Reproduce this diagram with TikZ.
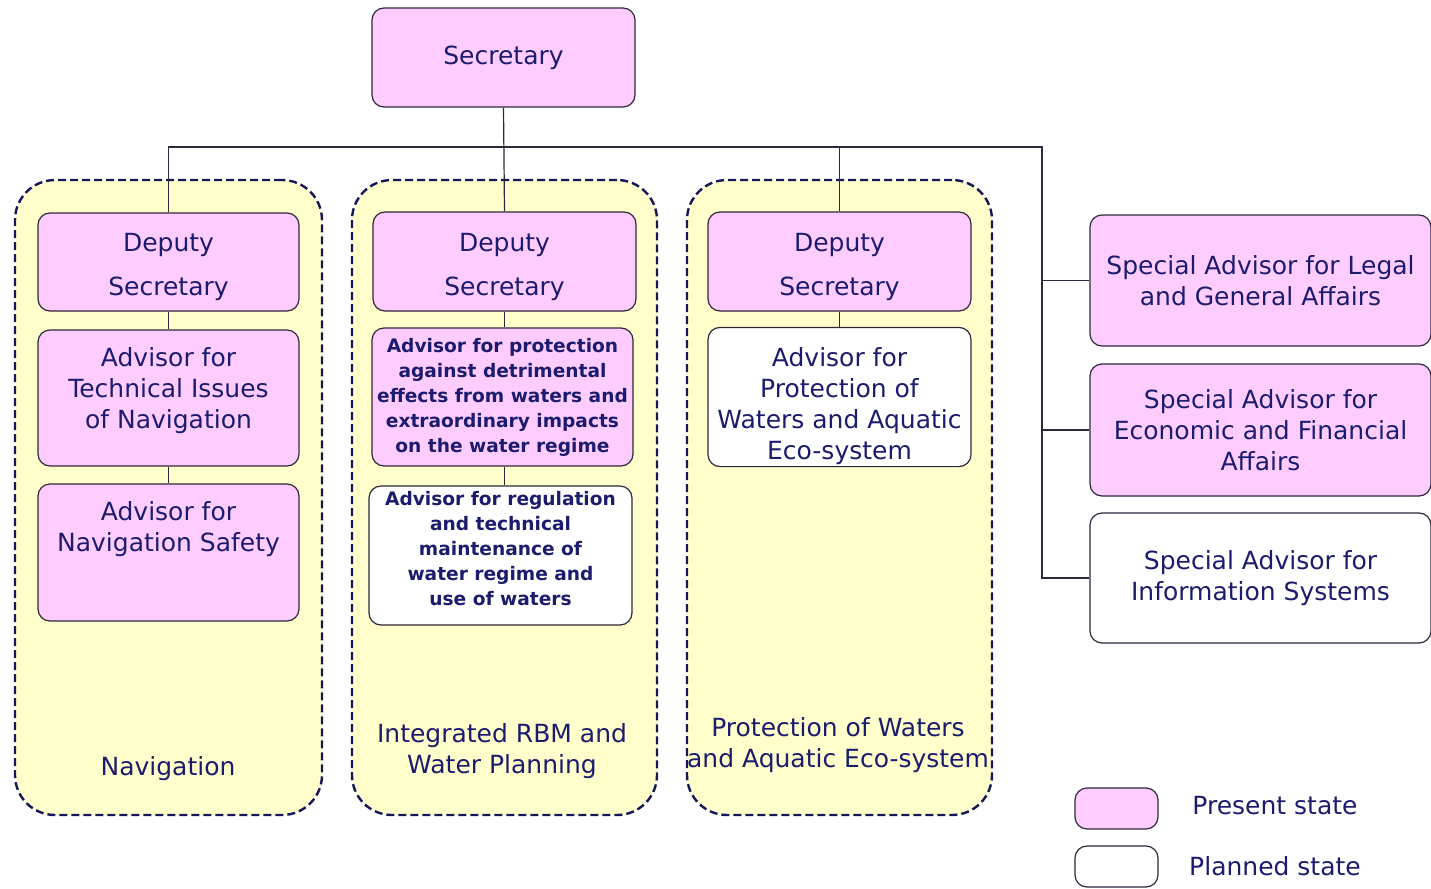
\documentclass[tikz,border=0pt]{standalone}
\usepackage{fontspec}
\setmainfont{DejaVu Sans}
\usetikzlibrary{positioning}
\definecolor{pinkfill}{RGB}{255,204,255}
\definecolor{yellowfill}{RGB}{255,255,204}
\definecolor{navytext}{RGB}{28,28,110}
\definecolor{edgegray}{RGB}{45,40,60}
% invisible struts to nudge text inside a box
\newcommand{\upstrut}[1]{\rule{0pt}{#1}}
\newcommand{\downstrut}[1]{\rule[-#1]{0pt}{1pt}}

\begin{document}
\begin{tikzpicture}[x=0.5pt, y=-0.5pt,
  present/.style={rectangle, rounded corners=6pt,
    draw=edgegray, line width=0.6pt, fill=pinkfill,
    text=navytext, font=\fontsize{12.5}{15.5}\selectfont,
    align=center, inner sep=1pt},
  planned/.style={present, fill=white},
  smalltext/.style={font=\fontsize{9.3}{12.5}\selectfont\bfseries},
  dashbox/.style={rectangle, rounded corners=20pt,
    draw=navytext!80!black, dash pattern=on 4pt off 2pt, line width=1.2pt,
    fill=yellowfill},
  grouplabel/.style={text=navytext, font=\fontsize{12.5}{15.5}\selectfont,
    align=center, inner sep=0pt},
  link/.style={draw=edgegray, line width=0.6pt}
]
\useasboundingbox (0,0) rectangle (1431,889);
% divisions
\node[dashbox, minimum width=153.5pt, minimum height=317.5pt] (navbox) at (168.5,497.5) {};
\node[dashbox, minimum width=152.5pt, minimum height=317.5pt] (rbmbox) at (504.5,497.5) {};
\node[dashbox, minimum width=152.5pt, minimum height=317.5pt] (ecobox) at (839.5,497.5) {};
\node[grouplabel] (navlbl) at (168,769) {Navigation};
\node[grouplabel] (rbmlbl) at (502,751) {Integrated RBM and\\Water Planning};
\node[grouplabel] (ecolbl) at (838,745) {Protection of Waters\\and Aquatic Eco-system};
% top
\node[present, minimum width=131.5pt, minimum height=49.5pt] (sec) at (503.5,57.5) {Secretary};
\node[present, minimum width=130.5pt, minimum height=49pt] (dep1) at (168.5,262) {\upstrut{14.5pt}Deputy\\[6.5pt]Secretary};
\node[present, minimum width=131.5pt, minimum height=49.5pt] (dep2) at (504.5,261.5) {\upstrut{14.5pt}Deputy\\[6.5pt]Secretary};
\node[present, minimum width=131.5pt, minimum height=49.5pt] (dep3) at (839.5,261.5) {\upstrut{14.5pt}Deputy\\[6.5pt]Secretary};
% navigation
\node[present, minimum width=130.5pt, minimum height=68pt] (tech) at (168.5,398) {Advisor for\\Technical Issues\\of Navigation\downstrut{10pt}};
\node[present, minimum width=130.5pt, minimum height=68.5pt] (safe) at (168.5,552.5) {Advisor for\\Navigation Safety\downstrut{26pt}};
% rbm
\node[present, smalltext, minimum width=130.5pt, minimum height=69pt] (prot) at (502.5,397) {Advisor for protection\\against detrimental\\effects from waters and\\extraordinary impacts\\on the water regime};
\node[planned, smalltext, minimum width=131.5pt, minimum height=69.5pt] (reg) at (500.5,555.5) {Advisor for regulation\\and technical\\maintenance of\\water regime and\\use of waters\downstrut{7pt}};
% eco-system
\node[planned, minimum width=131.5pt, minimum height=69pt] (aqua) at (839.5,397) {\upstrut{18.5pt}Advisor for\\Protection of\\Waters and Aquatic\\Eco-system};
% special advisors
\node[present, minimum width=170.5pt, minimum height=65.5pt] (legal) at (1260.5,280.5) {Special Advisor for Legal\\and General Affairs};
\node[present, minimum width=170.5pt, minimum height=66pt] (econ) at (1260.5,430) {Special Advisor for\\Economic and Financial\\Affairs};
\node[planned, minimum width=170.5pt, minimum height=65pt] (info) at (1260.5,578) {Special Advisor for\\Information Systems};
% legend
\node[present, minimum width=41.5pt, minimum height=20.5pt] (keyp) at (1116.5,808.5) {};
\node[planned, minimum width=41.5pt, minimum height=20.5pt] (keyw) at (1116.5,866.5) {};
\node[grouplabel] (keyptxt) at (1275,806) {Present state};
\node[grouplabel] (keywtxt) at (1275,866) {Planned state};
% links
\coordinate (busR) at (1042,147);
\draw[link] (sec.south) -- (dep2.north);
\draw[link] (dep1.north) |- (busR) |- (info.west);
\draw[link] (dep3.north) -- (dep3.north |- busR);
\draw[link] (busR |- legal.west) -- (legal.west);
\draw[link] (busR |- econ.west) -- (econ.west);
\draw[link] (dep1.south) -- (tech.north);
\draw[link] (tech.south) -- (safe.north);
\draw[link] (dep2.south) -- (dep2.south |- prot.north);
\draw[link] (prot.south -| dep2.south) -- (dep2.south |- reg.north);
\draw[link] (dep3.south) -- (aqua.north);
\end{tikzpicture}
\end{document}
